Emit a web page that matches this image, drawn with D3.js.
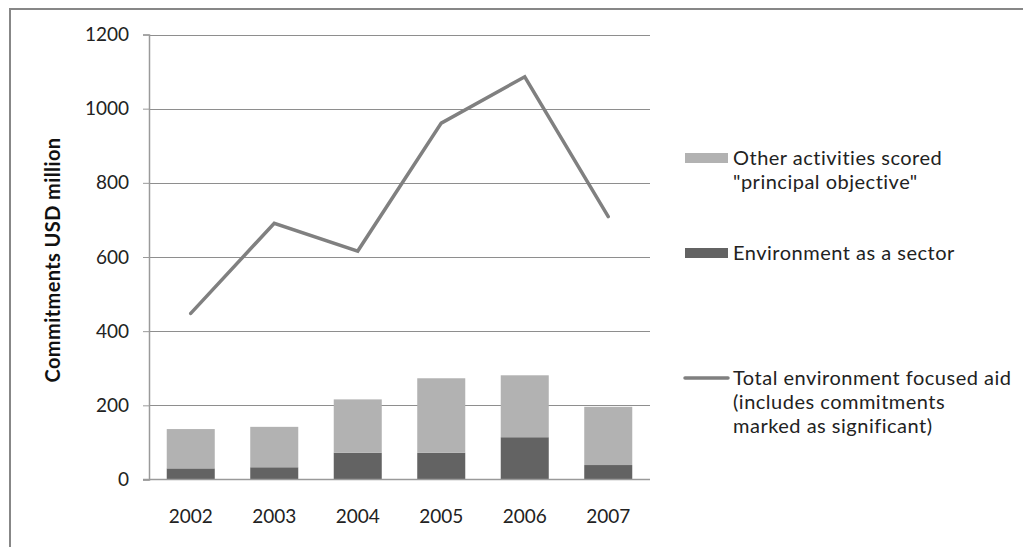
<!DOCTYPE html>
<html>
<head>
<meta charset="utf-8">
<script src="https://cdn.jsdelivr.net/npm/d3@7"></script>
<style>
  html, body { margin: 0; padding: 0; background: #fff; }
  svg { display: block; font-family: Lato, "Open Sans", sans-serif; }
</style>
</head>
<body>
<svg id="chart" width="1023" height="547"></svg>
<script>
// Environment-focused aid commitments, USD million
const years = ["2002", "2003", "2004", "2005", "2006", "2007"];
const envSector = [30, 33, 72, 72, 114, 39];          // Environment as a sector
const otherPrincipal = [106, 109, 144, 201, 167, 157]; // Other activities scored "principal objective"
const totalFocused = [448, 691, 616, 961, 1086, 709];  // Total environment focused aid
const yTicks = [0, 200, 400, 600, 800, 1000, 1200];

const legendItems = [
  { type: "bar", color: "#b2b2b2", lines: ["Other activities scored", "\"principal objective\""] },
  { type: "bar", color: "#636363", lines: ["Environment as a sector"] },
  { type: "line", color: "#808080", lines: ["Total environment focused aid", "(includes commitments", "marked as significant)"] }
];

const svg = d3.select("#chart");

// outer frame (left and top edges)
svg.append("path")
  .attr("d", "M10,547 L10,9 L1023,9")
  .attr("fill", "none")
  .attr("stroke", "#878787")
  .attr("stroke-width", 2);

const plot = { left: 149, right: 650, top: 34.5, bottom: 479.5 };

const x = d3.scaleBand()
  .domain(years)
  .range([plot.left, plot.right])
  .paddingInner(0.425)
  .paddingOuter(0.2125);

const y = d3.scaleLinear()
  .domain([0, 1200])
  .range([plot.bottom, plot.top]);

// horizontal gridlines
svg.append("g")
  .selectAll("line")
  .data(yTicks.filter(d => d > 0))
  .join("line")
  .attr("x1", plot.left)
  .attr("x2", plot.right)
  .attr("y1", d => Math.round(y(d)) + 0.5)
  .attr("y2", d => Math.round(y(d)) + 0.5)
  .attr("stroke", "#8e8e8e")
  .attr("stroke-width", 1);

// y axis
const yAxis = svg.append("g")
  .attr("transform", `translate(${plot.left},0)`)
  .call(d3.axisLeft(y).tickValues(yTicks).tickSize(6).tickPadding(14).tickFormat(d3.format("d")));
yAxis.select(".domain").attr("stroke", "#9a9a9a").attr("stroke-width", 1.5);
yAxis.selectAll(".tick line").attr("stroke", "#9a9a9a");
yAxis.selectAll(".tick text")
  .attr("fill", "#222")
  .style("font-size", "19px")
  .style("font-family", "Lato, sans-serif");

// y axis title
svg.append("text")
  .attr("transform", `translate(60,260) rotate(-90)`)
  .attr("text-anchor", "middle")
  .attr("fill", "#111")
  .style("font-size", "20px")
  .style("letter-spacing", "0.4px")
  .style("font-weight", "bold")
  .text("Commitments USD million");

// stacked bars
const stackData = years.map((yr, i) => ({ year: yr, env: envSector[i], other: otherPrincipal[i] }));
const series = d3.stack().keys(["env", "other"])(stackData);
const barColors = { env: "#636363", other: "#b2b2b2" };

svg.append("g")
  .selectAll("g")
  .data(series)
  .join("g")
  .attr("fill", s => barColors[s.key])
  .selectAll("rect")
  .data(s => s)
  .join("rect")
  .attr("x", d => x(d.data.year))
  .attr("width", x.bandwidth())
  .attr("y", d => y(d[1]))
  .attr("height", d => y(d[0]) - y(d[1]));

// x axis baseline and labels
svg.append("line")
  .attr("x1", plot.left - 6)
  .attr("x2", plot.right)
  .attr("y1", plot.bottom)
  .attr("y2", plot.bottom)
  .attr("stroke", "#9a9a9a")
  .attr("stroke-width", 1.5);

svg.append("g")
  .selectAll("text")
  .data(years)
  .join("text")
  .attr("x", d => x(d) + x.bandwidth() / 2)
  .attr("y", 523)
  .attr("text-anchor", "middle")
  .attr("fill", "#222")
  .style("font-size", "19px")
  .text(d => d);

// total line
const line = d3.line()
  .x((d, i) => x(years[i]) + x.bandwidth() / 2)
  .y(d => y(d));

svg.append("path")
  .datum(totalFocused)
  .attr("d", line)
  .attr("fill", "none")
  .attr("stroke", "#808080")
  .attr("stroke-width", 3.5)
  .attr("stroke-linejoin", "miter")
  .attr("stroke-linecap", "round");

// legend
const legendTops = [158, 253, 378];
const lg = svg.append("g");
legendItems.forEach((item, k) => {
  const cy = legendTops[k];
  if (item.type === "bar") {
    lg.append("rect")
      .attr("x", 685).attr("y", cy - 5)
      .attr("width", 43).attr("height", 10)
      .attr("fill", item.color);
  } else {
    lg.append("line")
      .attr("x1", 685).attr("x2", 728)
      .attr("y1", cy).attr("y2", cy)
      .attr("stroke", item.color)
      .attr("stroke-width", 3.5)
      .attr("stroke-linecap", "round");
  }
  item.lines.forEach((t, j) => {
    lg.append("text")
      .attr("x", 733)
      .attr("y", cy + 7 + j * 24)
      .attr("fill", "#222")
      .style("font-size", "20px")
      .style("letter-spacing", "0.5px")
      .text(t);
  });
});
</script>
</body>
</html>
